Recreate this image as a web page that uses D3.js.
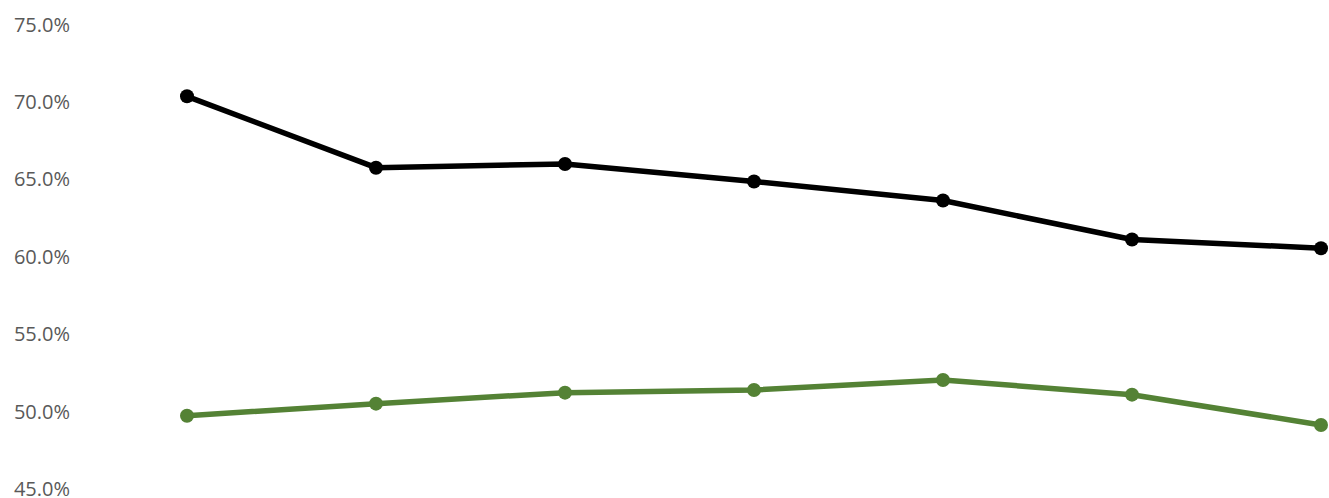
<!DOCTYPE html>
<html>
<head>
<meta charset="utf-8">
<script src="https://cdn.jsdelivr.net/npm/d3@7"></script>
<style>
  html, body { margin: 0; padding: 0; background: #fff; }
  svg { display: block; }
</style>
</head>
<body>
<svg id="chart" width="1329" height="498"></svg>
<script>
const categories = ["1", "2", "3", "4", "5", "6", "7"];
const seriesBlack = [70.33, 65.72, 65.96, 64.83, 63.6, 61.08, 60.52];
const seriesGreen = [49.7, 50.48, 51.19, 51.36, 52.01, 51.06, 49.1];
const yTicks = [45, 50, 55, 60, 65, 70, 75];

const svg = d3.select("#chart");
const x = d3.scalePoint().domain(categories).range([187, 1321]);
const y = d3.scaleLinear().domain([45, 75]).range([488.5, 24]);

const yAxis = d3.axisLeft(y).tickValues(yTicks).tickSize(0).tickPadding(0)
  .tickFormat(d => d.toFixed(1) + "%");
const gy = svg.append("g").attr("transform", "translate(70,0)").call(yAxis);
gy.select(".domain").remove();
gy.selectAll("text")
  .attr("fill", "#595959")
  .style("font-family", "'Open Sans', sans-serif")
  .style("font-size", "20px")
  .attr("dy", "0.35em");

function drawSeries(vals, color) {
  const data = vals.map((v, i) => ({ c: categories[i], v }));
  const line = d3.line().x(d => x(d.c)).y(d => y(d.v));
  svg.append("path").datum(data)
    .attr("d", line).attr("fill", "none")
    .attr("stroke", color).attr("stroke-width", 5.5)
    .attr("stroke-linejoin", "round");
  svg.append("g").selectAll("circle").data(data).join("circle")
    .attr("cx", d => x(d.c)).attr("cy", d => y(d.v))
    .attr("r", 7).attr("fill", color);
}
drawSeries(seriesBlack, "#000000");
drawSeries(seriesGreen, "#548235");
</script>
</body>
</html>
